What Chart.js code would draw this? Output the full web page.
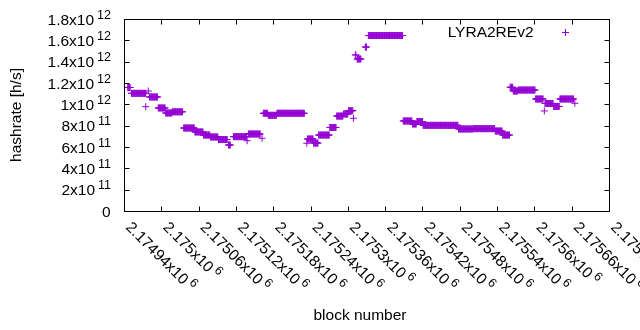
<!DOCTYPE html>
<html><head><meta charset="utf-8">
<script src="https://cdn.jsdelivr.net/npm/chart.js@4"></script>
<style>html,body{margin:0;padding:0;background:#fff}#wrap{width:640px;height:330px}</style>
</head><body><div id="wrap"><canvas id="c" width="640" height="330"></canvas></div>
<script>
const seriesName = 'LYRA2REv2';
// runs of blocks sharing one hashrate value (block from, block to, h/s)
const segStart = [2174946,2174952,2174975,2174979,2174981,2174995,2175007,2175018,2175036,2175054,2175068,2175079,2175092,2175108,2175116,2175138,2175140,2175162,2175164,2175172,2175186,2175234,2175235,2175245,2175253,2175271,2175282,2175293,2175301,2175309,2175312,2175315,2175328,2175333,2175389,2175404,2175411,2175421,2175478,2175502,2175537,2175549,2175561,2175566,2175574,2175602,2175616,2175617,2175631,2175641,2175665];
const segEnd   = [2174950,2174975,2174975,2174979,2174994,2175006,2175017,2175034,2175053,2175067,2175078,2175091,2175106,2175111,2175137,2175138,2175159,2175162,2175171,2175185,2175230,2175234,2175244,2175252,2175270,2175281,2175292,2175300,2175308,2175309,2175313,2175321,2175330,2175388,2175403,2175410,2175420,2175477,2175501,2175536,2175548,2175560,2175565,2175573,2175601,2175614,2175616,2175630,2175640,2175663,2175665];
const segValue = [1.158e12,1.103e12,0.978e12,1.125e12,1.069e12,0.966e12,0.919e12,0.930e12,0.778e12,0.741e12,0.712e12,0.694e12,0.670e12,0.619e12,0.697e12,0.659e12,0.722e12,0.682e12,0.916e12,0.897e12,0.916e12,0.635e12,0.675e12,0.637e12,0.712e12,0.783e12,0.890e12,0.909e12,0.940e12,0.869e12,1.463e12,1.425e12,1.537e12,1.645e12,0.844e12,0.816e12,0.839e12,0.803e12,0.769e12,0.772e12,0.750e12,0.712e12,1.160e12,1.125e12,1.134e12,1.050e12,0.938e12,1.008e12,0.980e12,1.050e12,1.010e12];

const xTicks = [2174940,2175000,2175060,2175120,2175180,2175240,2175300,2175360,2175420,2175480,2175540,2175600,2175660,2175720];
const xTickLabels = ['2.17494x10','2.175x10','2.17506x10','2.17512x10','2.17518x10','2.17524x10','2.1753x10','2.17536x10','2.17542x10','2.17548x10','2.17554x10','2.1756x10','2.17566x10','2.17572x10'];
const xTickExp = '6';
const yTicks = [0,2e11,4e11,6e11,8e11,1e12,1.2e12,1.4e12,1.6e12,1.8e12];
const yTickLabels = ['0','2x10','4x10','6x10','8x10','1x10','1.2x10','1.4x10','1.6x10','1.8x10'];
const yTickExps = ['','11','11','11','11','12','12','12','12','12'];
const xTitle = 'block number';
const yTitle = 'hashrate [h/s]';

const COLOR = '#9400d3';
const FONT = '"Liberation Sans", Arial, sans-serif';
const BASE = 15.5, EXP = 12.5;

const points = [];
for (let i = 0; i < segStart.length; i++)
  for (let b = segStart[i]; b <= segEnd[i]; b++) points.push({x: b, y: segValue[i]});

const frame = {
  id: 'frame',
  afterDraw(chart) {
    const {ctx, chartArea: a} = chart;
    const xs = chart.scales.x, ys = chart.scales.y;
    ctx.save();
    ctx.strokeStyle = '#000'; ctx.lineWidth = 1;
    const L = a.left + 0.5, R = a.right + 0.5, T = a.top + 0.5, B = a.bottom + 0.5;
    ctx.strokeRect(L, T, R - L, B - T);
    ctx.beginPath();
    xTicks.forEach(v => { const p = Math.round(xs.getPixelForValue(v)) + 0.5;
      ctx.moveTo(p, B); ctx.lineTo(p, B - 5); ctx.moveTo(p, T); ctx.lineTo(p, T + 5); });
    yTicks.forEach(v => { const p = Math.round(ys.getPixelForValue(v)) + 0.5;
      ctx.moveTo(L, p); ctx.lineTo(L + 5, p); ctx.moveTo(R, p); ctx.lineTo(R - 5, p); });
    ctx.stroke();

    ctx.fillStyle = '#000';
    ctx.textBaseline = 'alphabetic';
    // y labels
    yTicks.forEach((v, i) => {
      const p = ys.getPixelForValue(v);
      const ex = yTickExps[i];
      if (ex) {
        ctx.font = EXP + 'px ' + FONT;
        const ew = ctx.measureText(ex).width;
        ctx.textAlign = 'right';
        ctx.fillText(ex, 111, p - 0.5);
        ctx.font = BASE + 'px ' + FONT;
        ctx.fillText(yTickLabels[i], 111 - ew - 3, p + 5.5);
      } else {
        ctx.font = BASE + 'px ' + FONT;
        ctx.textAlign = 'right';
        ctx.fillText(yTickLabels[i], 110.5, p + 5.5);
      }
    });
    // x labels rotated
    xTicks.forEach((v, i) => {
      const p = xs.getPixelForValue(v);
      ctx.save();
      ctx.translate(p + 1, a.bottom + 17);
      ctx.rotate(Math.PI / 4);
      ctx.textAlign = 'left';
      ctx.font = BASE + 'px ' + FONT;
      ctx.fillText(xTickLabels[i], 0, 0);
      const w = ctx.measureText(xTickLabels[i]).width;
      ctx.font = EXP + 'px ' + FONT;
      ctx.fillText(xTickExp, w + 3, -6);
      ctx.restore();
    });
    // titles
    ctx.font = BASE + 'px ' + FONT;
    ctx.textAlign = 'center'; ctx.textBaseline = 'middle';
    ctx.fillText(xTitle, 360, 316);
    ctx.save();
    ctx.translate(16.5, 115);
    ctx.rotate(-Math.PI / 2);
    ctx.fillText(yTitle, 0, 0);
    ctx.restore();
    // legend
    ctx.textAlign = 'right';
    ctx.fillText(chart.data.datasets[0].label, 533.5, 32.5);
    ctx.strokeStyle = COLOR;
    ctx.beginPath();
    ctx.moveTo(562, 32.5); ctx.lineTo(569, 32.5);
    ctx.moveTo(565.5, 29); ctx.lineTo(565.5, 36);
    ctx.stroke();
    ctx.restore();
  }
};

new Chart(document.getElementById('c'), {
  type: 'scatter',
  data: {datasets: [{label: seriesName, data: points, pointStyle: 'cross', pointRadius: 3.5,
    pointHoverRadius: 3.5, pointBorderWidth: 1, borderColor: COLOR, backgroundColor: COLOR}]},
  options: {
    responsive: false, animation: false, devicePixelRatio: 1, events: [],
    layout: {padding: {left: 124, top: 19, right: 31, bottom: 119}},
    plugins: {legend: {display: false}, tooltip: {enabled: false}},
    scales: {
      x: {type: 'linear', min: 2174940, max: 2175720, display: false},
      y: {type: 'linear', min: 0, max: 1.8e12, display: false}
    }
  },
  plugins: [frame]
});
</script></body></html>
